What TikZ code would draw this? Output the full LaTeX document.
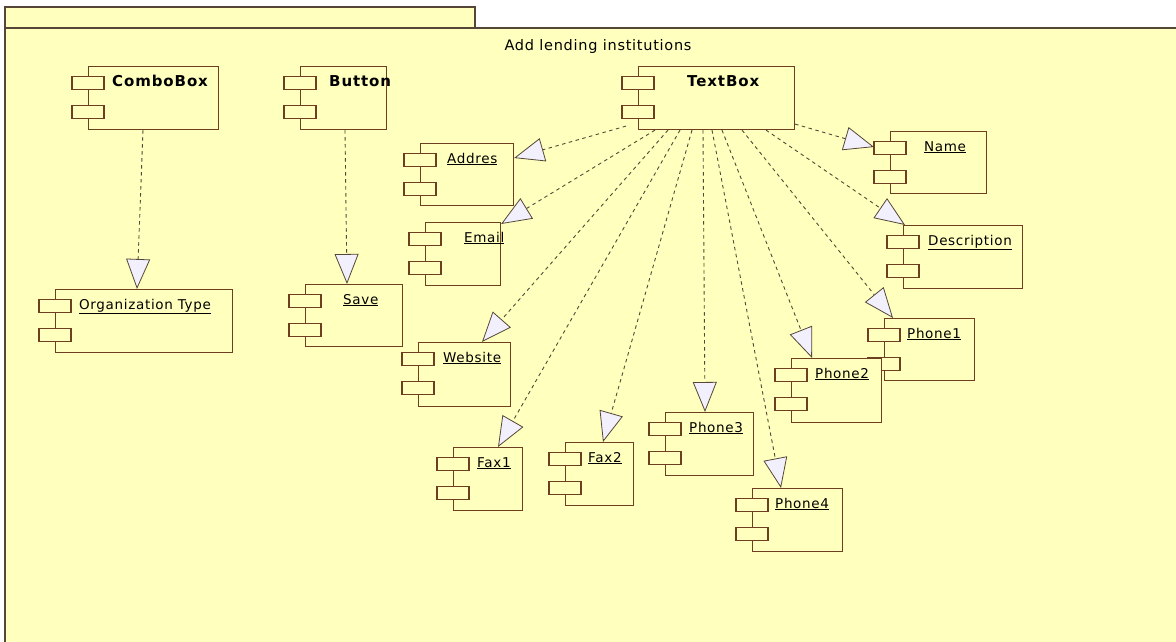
\documentclass[tikz,border=0pt]{standalone}
\usepackage{fontspec}
\setmainfont{DejaVu Sans}
\newfontfamily\labelfont[LetterSpace=5]{DejaVu Sans}
\newfontfamily\boldfont[LetterSpace=6]{DejaVu Sans Bold}
\usetikzlibrary{arrows.meta,calc}

\definecolor{pkgfill}{RGB}{255,255,190}
\definecolor{pkgline}{RGB}{85,70,55}
\definecolor{compline}{RGB}{110,62,32}
\definecolor{tipfill}{RGB}{242,240,252}

\tikzset{
  compbox/.style={draw=compline, fill=pkgfill, line width=1.1pt, inner sep=0pt},
  comptab/.style={draw=compline, fill=pkgfill, line width=1.1pt},
  complabel/.style={anchor=base west, inner sep=0pt, font=\labelfont\fontsize{13.5}{15}\selectfont},
  boldlabel/.style={anchor=base west, inner sep=0pt, font=\boldfont\fontsize{15}{17}\selectfont},
  dep/.style={draw=pkgline, line width=0.9pt, dash pattern=on 3.5pt off 3.5pt,
    -{Triangle[length=30pt, width=24pt, fill=tipfill, line width=0.8pt]}},
}

% component: name, left, top, width, height, label offset, label
\newcommand\umlcomp[7]{%
  \node[compbox, minimum width=#4, minimum height=#5, anchor=north west] (#1) at (#2,#3) {};
  \draw[comptab] ($(#1.north west)+(-16,10.5)$) rectangle ++(32,13);
  \draw[comptab] ($(#1.north west)+(-16,39.5)$) rectangle ++(32,13);
  \node[complabel] (#1-lbl) at ($(#1.north west)+(#6,20)$) {\underline{#7}};
}
\newcommand\umlbold[7]{%
  \node[compbox, minimum width=#4, minimum height=#5, anchor=north west] (#1) at (#2,#3) {};
  \draw[comptab] ($(#1.north west)+(-16,10.5)$) rectangle ++(32,13);
  \draw[comptab] ($(#1.north west)+(-16,39.5)$) rectangle ++(32,13);
  \node[boldlabel] (#1-lbl) at ($(#1.north west)+(#6,21)$) {#7};
}

\begin{document}
\begin{tikzpicture}[x=1pt,y=-1pt]
\useasboundingbox (0,0) rectangle (1176,642);

% package frame with its tab
\draw[draw=pkgline, fill=pkgfill, line width=1.1pt] (5,7) rectangle (475,28);
\draw[draw=pkgline, fill=pkgfill, line width=1.1pt] (5,28) rectangle (1190,660);
\node[font=\labelfont\fontsize{14.5}{16}\selectfont, anchor=base] (title) at (598,51) {Add lending institutions};

% components
\umlbold{combo}{88}{66}{130}{63}{24}{ComboBox}
\umlbold{button}{300}{66}{86}{63}{29}{Button}
\umlbold{textbox}{638}{66}{156}{63}{49}{TextBox}

\umlcomp{orgtype}{55}{289}{177}{63}{24}{Organization Type}
\umlcomp{save}{305}{284}{97}{62}{38}{Save}
\umlcomp{addres}{420}{143}{93}{62}{27}{Addres}
\umlcomp{email}{425}{222}{75}{63}{39}{Email}
\umlcomp{website}{418}{342}{92}{64}{25}{Website}
\umlcomp{fax1}{453}{447}{69}{63}{24}{Fax1}
\umlcomp{fax2}{565}{442}{68}{63}{23}{Fax2}
\umlcomp{phone3}{665}{412}{88}{63}{24}{Phone3}
\umlcomp{phone4}{752}{488}{90}{63}{23}{Phone4}
\umlcomp{phone1}{884}{318}{90}{62}{23}{Phone1}
\umlcomp{phone2}{791}{358}{90}{64}{24}{Phone2}
\umlcomp{name}{890}{131}{96}{62}{34}{Name}
\umlcomp{descr}{903}{225}{119}{63}{25}{Description}

% dependencies
\draw[dep] ($(combo.south west)+(55,0)$) -- ($(orgtype.north west)+(82,0)$);
\draw[dep] ($(button.south west)+(45,0)$) -- ($(save.north west)+(42,0)$);
\draw[dep] ($(textbox.south west)+(-12,-4)$) -- ($(addres.north east)+(0,15)$);
\draw[dep] ($(textbox.south west)+(17,0)$) -- ($(email.north east)+(0,2)$);
\draw[dep] ($(textbox.south west)+(30,0)$) -- ($(website.north west)+(64,0)$);
\draw[dep] ($(textbox.south west)+(42,0)$) -- ($(fax1.north west)+(45,0)$);
\draw[dep] ($(textbox.south west)+(54,0)$) -- ($(fax2.north west)+(38,0)$);
\draw[dep] ($(textbox.south west)+(65,0)$) -- ($(phone3.north west)+(40,0)$);
\draw[dep] ($(textbox.south west)+(74,0)$) -- ($(phone4.north west)+(29,0)$);
\draw[dep] ($(textbox.south west)+(84,0)$) -- ($(phone2.north west)+(21,0)$);
\draw[dep] ($(textbox.south west)+(104,0)$) -- ($(phone1.north west)+(9,0)$);
\draw[dep] ($(textbox.south west)+(128,0)$) -- ($(descr.north west)+(2,0)$);
\draw[dep] ($(textbox.south east)+(0,-6)$) -- ($(name.north west)+(-16,16)$);
\end{tikzpicture}
\end{document}
